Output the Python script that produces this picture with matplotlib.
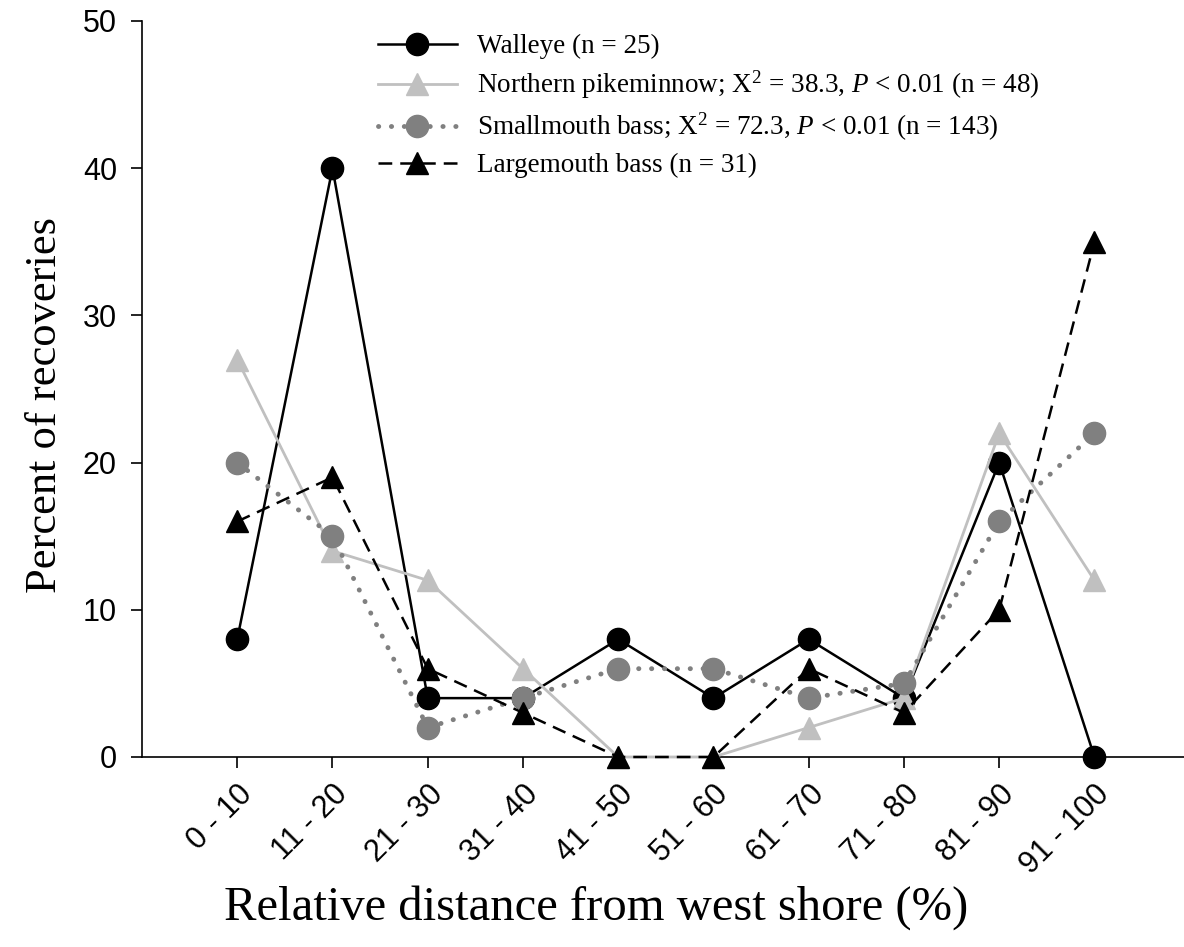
"""Percent of recoveries by relative distance from west shore."""

import matplotlib
matplotlib.use("Agg")
import matplotlib.pyplot as plt

categories = ["0 - 10", "11 - 20", "21 - 30", "31 - 40", "41 - 50",
              "51 - 60", "61 - 70", "71 - 80", "81 - 90", "91 - 100"]
walleye = [8, 40, 4, 4, 8, 4, 8, 4, 20, 0]
pikeminnow = [27, 14, 12, 6, 0, 0, 2, 4, 22, 12]
smallmouth = [20, 15, 2, 4, 6, 6, 4, 5, 16, 22]
largemouth = [16, 19, 6, 3, 0, 0, 6, 3, 10, 35]

labels = [
    "Walleye (n = 25)",
    r"Northern pikeminnow; X$^2$ = 38.3, $\it{P}$ < 0.01 (n = 48)",
    r"Smallmouth bass; X$^2$ = 72.3, $\it{P}$ < 0.01 (n = 143)",
    "Largemouth bass (n = 31)",
]

plt.rcParams["mathtext.fontset"] = "custom"
plt.rcParams["mathtext.rm"] = "Liberation Serif"
plt.rcParams["mathtext.it"] = "Liberation Serif:italic"

W, H = 1184, 947
fig = plt.figure(figsize=(W / 100, H / 100), dpi=100)
ax = fig.add_axes([142 / W, 1 - 757 / H, (W - 142) / W, (757 - 21) / H])

x = list(range(len(categories)))
ms = 16

ax.plot(x, walleye, color="black", lw=1.8, marker="o", ms=ms,
        label=labels[0], clip_on=False, zorder=3)
ax.plot(x, pikeminnow, color="#c0c0c0", lw=2.0, marker="^", ms=ms,
        label=labels[1], clip_on=False, zorder=4)
ax.plot(x, smallmouth, color="#808080", lw=3.5, ls=(0, (0.05, 2.6)),
        dash_capstyle="round", marker="o", ms=ms,
        label=labels[2], clip_on=False, zorder=5)
ax.plot(x, largemouth, color="black", lw=1.8, ls=(0, (5.5, 3.2)),
        marker="^", ms=ms, label=labels[3], clip_on=False, zorder=6)

ax.set_xlim(-1, 9.94)
ax.set_ylim(0, 50)
ax.set_yticks([0, 10, 20, 30, 40, 50])
ax.set_xticks(x)
ax.set_xticklabels(categories, rotation=45, ha="right", rotation_mode="anchor",
                   family="Liberation Sans", fontsize=22)
for t in ax.get_yticklabels():
    t.set_family("Liberation Sans")
    t.set_fontsize(22)

for side in ("top", "right"):
    ax.spines[side].set_visible(False)
for side in ("left", "bottom"):
    ax.spines[side].set_linewidth(1.2)
ax.tick_params(direction="out", length=8, width=1.2)
ax.tick_params(axis="y", pad=10)
ax.tick_params(axis="x", pad=8)

fig.text(45 / W, 1 - 405 / H, "Percent of recoveries", family="Liberation Serif",
         fontsize=32, rotation=90, ha="center", va="center")
fig.text(596 / W, 1 - 908 / H, "Relative distance from west shore (%)",
         family="Liberation Serif", fontsize=35, ha="center", va="center")

leg = ax.legend(loc="upper left", bbox_to_anchor=(378 / W, 1 - 34 / H),
                bbox_transform=fig.transFigure, frameon=False,
                prop={"family": "Liberation Serif", "size": 19.5},
                handlelength=2.9, handletextpad=0.75, labelspacing=0.36,
                borderaxespad=0, borderpad=0)

fig.savefig("out.png", dpi=100)
